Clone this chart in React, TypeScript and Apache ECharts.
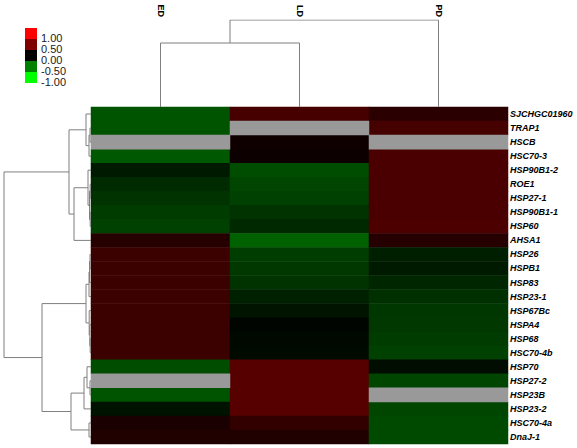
import React, { useEffect, useRef } from "react";
import * as echarts from "echarts";

const columns = ["ED", "LD", "PD"];
const genes = [
  "SJCHGC01960", "TRAP1", "HSCB", "HSC70-3", "HSP90B1-2", "ROE1", "HSP27-1", "HSP90B1-1",
  "HSP60", "AHSA1", "HSP26", "HSPB1", "HSP83", "HSP23-1", "HSP67Bc", "HSPA4", "HSP68",
  "HSC70-4b", "HSP70", "HSP27-2", "HSP23B", "HSP23-2", "HSC70-4a", "DnaJ-1",
];
// values per gene: [ED, LD, PD]; null = missing (grey)
const edValues = [-0.33, -0.33, null, -0.35, -0.1, -0.17, -0.2, -0.23, -0.25, 0.15, 0.23, 0.23, 0.23, 0.23, 0.23, 0.23, 0.23, 0.23, -0.3, null, -0.33, -0.07, 0.1, 0.13];
const ldValues = [0.28, null, 0.06, 0.05, -0.3, -0.27, -0.25, -0.2, -0.16, -0.38, -0.24, -0.22, -0.2, -0.13, -0.08, -0.02, -0.03, -0.04, 0.34, 0.34, 0.34, 0.34, 0.2, 0.13];
const pdValues = [0.17, 0.27, null, 0.29, 0.29, 0.29, 0.29, 0.29, 0.3, 0.15, -0.12, -0.1, -0.15, -0.19, -0.21, -0.22, -0.23, -0.25, -0.05, -0.27, null, -0.27, -0.29, -0.29];

// dendrogram merges: [childA, childB, height]; index >= leaf count refers to an earlier merge
const rowMerges: [number, number, number][] = [
  [1, 2, 1], [24, 3, 2], [0, 25, 5],
  [5, 6, 0.8], [7, 8, 0.8], [27, 28, 1.5], [4, 29, 3], [30, 9, 17], [26, 31, 22],
  [10, 11, 1], [33, 12, 1.5], [34, 13, 2], [16, 17, 0.8], [15, 36, 1.2], [14, 37, 1.8], [35, 38, 5],
  [19, 20, 1], [18, 40, 4], [41, 21, 7], [22, 23, 2], [42, 43, 20], [39, 44, 49], [32, 45, 87],
];
const colMerges: [number, number, number][] = [[0, 1, 64], [3, 2, 87]];

const legendColors = ["#ff0000", "#800000", "#000000", "#008000", "#00ff00"];
const legendLabels = ["1.00", "0.50", "0.00", "-0.50", "-1.00"];
const scaleColors = ["#00ff00", "#000000", "#ff0000"];
const missingColor = "#999999";

function dendroSegments(n: number, merges: [number, number, number][], horizontal: boolean) {
  const pos: number[] = [];
  const hgt: number[] = [];
  for (let i = 0; i < n; i++) { pos.push(i + 0.5); hgt.push(0); }
  const out: { coords: number[][] }[] = [];
  merges.forEach(([a, b, h]) => {
    const pts = [[pos[a], hgt[a]], [pos[a], h], [pos[b], h], [pos[b], hgt[b]]];
    out.push({ coords: pts.map(([p, v]) => (horizontal ? [v, p] : [p, v])) });
    pos.push((pos[a] + pos[b]) / 2);
    hgt.push(h);
  });
  return out;
}

export default function App() {
  const ref = useRef<HTMLDivElement>(null);
  useEffect(() => {
    document.body.style.margin = "0";
    const chart = echarts.init(ref.current!, null, { renderer: "svg" });
    const valueCols = [edValues, ldValues, pdValues];
    const data: number[][] = [];
    const missing: number[][] = [];
    valueCols.forEach((col, x) => col.forEach((v, y) => {
      if (v === null) missing.push([x, y, 0]); else data.push([x, y, v]);
    }));
    const rowMax = rowMerges[rowMerges.length - 1][2];
    const colMax = colMerges[colMerges.length - 1][2];
    const lineStyle = { color: "#7f7f7f", width: 1, opacity: 1 };
    const legendChildren: any[] = [];
    legendColors.forEach((c, i) => {
      legendChildren.push({ type: "rect", shape: { x: 25, y: 28 + i * 11, width: 12, height: 11 }, style: { fill: c } });
      legendChildren.push({ type: "text", x: 41, y: 38 + i * 11, style: { text: legendLabels[i], fill: "#1a1a1a", font: "11px 'Liberation Sans', Arial, sans-serif", verticalAlign: "middle" } });
    });
    chart.setOption({
      animation: false,
      backgroundColor: "#ffffff",
      grid: [
        { left: 91, top: 107, width: 417, height: 337 },
        { left: 4, top: 107, width: 87, height: 337 },
        { left: 91, top: 20, width: 417, height: 87 },
      ],
      xAxis: [
        {
          type: "category", data: columns, gridIndex: 0, position: "top", offset: 87,
          axisLine: { show: false }, axisTick: { show: false }, splitLine: { show: false },
          axisLabel: { rotate: 90, margin: 3, fontSize: 9, fontWeight: "bold", color: "#000", fontFamily: "'Liberation Sans', Arial, sans-serif" },
        },
        { type: "value", gridIndex: 1, min: 0, max: rowMax, inverse: true, show: false },
        { type: "value", gridIndex: 2, min: 0, max: columns.length, show: false },
      ],
      yAxis: [
        {
          type: "category", data: genes, gridIndex: 0, inverse: true, position: "right",
          axisLine: { show: false }, axisTick: { show: false }, splitLine: { show: false },
          axisLabel: { margin: 2, fontSize: 9, fontWeight: "bold", fontStyle: "italic", color: "#000", fontFamily: "'Liberation Sans', Arial, sans-serif" },
        },
        { type: "value", gridIndex: 1, min: 0, max: genes.length, inverse: true, show: false },
        { type: "value", gridIndex: 2, min: 0, max: colMax, show: false },
      ],
      visualMap: [
        {
          type: "continuous", show: false, min: -1, max: 1, seriesIndex: 0, dimension: 2,
          inRange: { color: scaleColors },
        },
        {
          type: "continuous", show: false, min: 0, max: 1, seriesIndex: 1, dimension: 2,
          inRange: { color: [missingColor, missingColor] },
        },
      ],
      series: [
        { type: "heatmap", xAxisIndex: 0, yAxisIndex: 0, data },
        { type: "heatmap", xAxisIndex: 0, yAxisIndex: 0, data: missing },
        { type: "lines", coordinateSystem: "cartesian2d", xAxisIndex: 1, yAxisIndex: 1, polyline: true, data: dendroSegments(genes.length, rowMerges, true), lineStyle, silent: true },
        { type: "lines", coordinateSystem: "cartesian2d", xAxisIndex: 2, yAxisIndex: 2, polyline: true, data: dendroSegments(columns.length, colMerges, false), lineStyle, silent: true },
      ],
      graphic: [{ type: "group", children: legendChildren }],
    });
    return () => chart.dispose();
  }, []);
  return <div ref={ref} style={{ width: 577, height: 448 }} />;
}
